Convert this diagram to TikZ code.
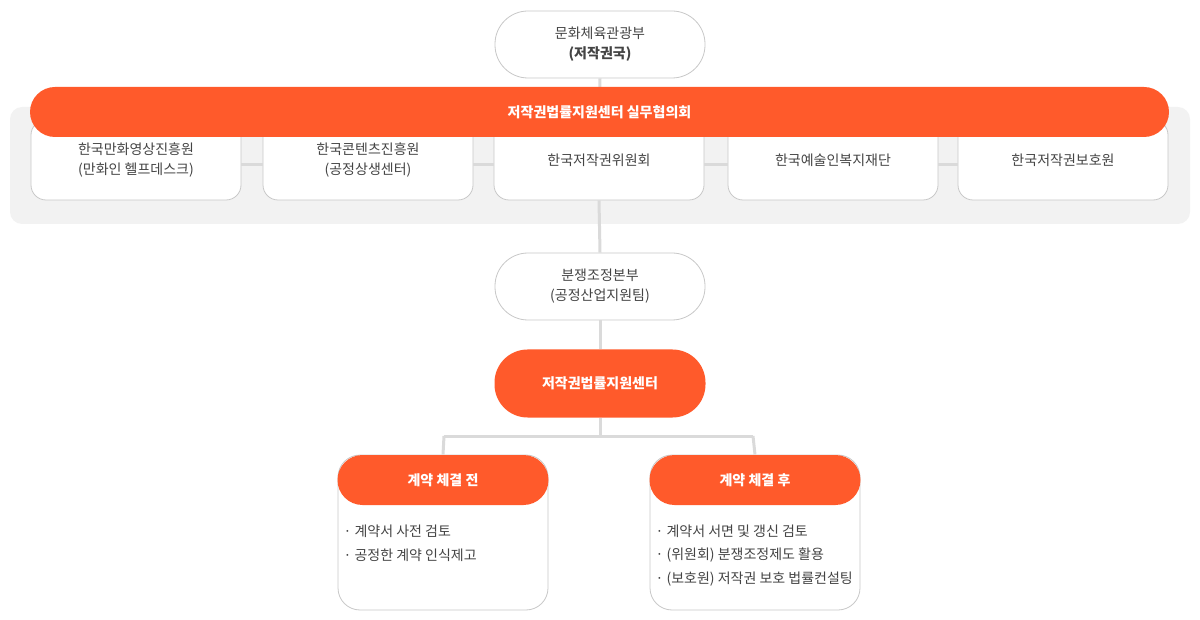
\documentclass[tikz,border=0pt]{standalone}
\usepackage{fontspec}
\setmainfont{Noto Sans CJK KR}
\definecolor{org}{HTML}{FF5A2B}
\definecolor{ln}{HTML}{DADADA}
\definecolor{bd}{HTML}{C8C8C8}
\definecolor{tx}{HTML}{444444}
\definecolor{panel}{HTML}{F2F2F2}
\begin{document}
\begin{tikzpicture}[x=1pt,y=-1pt,
  pill/.style={draw=bd,line width=0.8pt,fill=white,rounded corners=33pt,minimum width=210pt,minimum height=67pt,align=center,font=\fontsize{14}{20}\selectfont,text=tx},
  opill/.style={fill=org,rounded corners=33pt,minimum width=211pt,minimum height=68pt,align=center,font=\fontsize{14}{20}\selectfont\bfseries,text=white},
  sbox/.style={draw=bd,line width=0.8pt,fill=white,rounded corners=15pt,minimum width=210pt,minimum height=80pt,align=center,font=\fontsize{14}{20}\selectfont,text=tx},
  conn/.style={draw=ln,line width=3pt},
  bigbox/.style={draw=bd,line width=0.8pt,fill=white,rounded corners=22pt,minimum width=210pt,minimum height=155pt},
  ohead/.style={fill=org,rounded corners=25pt,minimum width=211pt,minimum height=50pt,font=\fontsize{14}{20}\selectfont\bfseries,text=white},
  item/.style={anchor=west,font=\fontsize{14}{20}\selectfont,text=tx}]
\useasboundingbox (0,0) rectangle (1200,620);
\node[fill=panel,rounded corners=12pt,minimum width=1180pt,minimum height=117pt] (panel) at (600,165.5) {};
% connectors behind
\coordinate (topc) at (600,78);
\coordinate (split) at (600,436);
\coordinate (sl) at (444,436);
\coordinate (sr) at (753,436);
\node[sbox] (b1) at (136,160) {한국만화영상진흥원\\(만화인 헬프데스크)};
\node[sbox] (b2) at (368,160) {한국콘텐츠진흥원\\(공정상생센터)};
\node[sbox] (b3) at (599,160) {한국저작권위원회};
\node[sbox] (b4) at (833,160) {한국예술인복지재단};
\node[sbox] (b5) at (1063,160) {한국저작권보호원};
\draw[conn] (b1.east|-0,165) -- (b2.west|-0,165);
\draw[conn] (b2.east|-0,165) -- (b3.west|-0,165);
\draw[conn] (b3.east|-0,165) -- (b4.west|-0,165);
\draw[conn] (b4.east|-0,165) -- (b5.west|-0,165);
\node[pill] (top) at (600,44.5) {문화체육관광부\\\textbf{(저작권국)}};
\node[pill] (mid) at (600,286.5) {분쟁조정본부\\(공정산업지원팀)};
\node[opill] (ctr) at (600,383.5) {저작권법률지원센터};
\draw[conn] (top.south) -- (b3.north);
\draw[conn] (b3.south) -- (mid.north);
\draw[conn] (mid.south) -- (ctr.north);
\draw[conn] (ctr.south) -- (split) (sl) -- (sr);
\node[fill=org,rounded corners=25pt,minimum width=1139pt,minimum height=50pt,font=\fontsize{14}{20}\selectfont\bfseries,text=white] (bar) at (599.5,112) {저작권법률지원센터 실무협의회};
\node[bigbox] (lb) at (443,532.5) {};
\node[bigbox] (rb) at (755,532.5) {};
\draw[conn] (sl) -- (lb.north);
\draw[conn] (sr) -- (rb.north);
\node[ohead] (lh) at (443,480) {계약 체결 전};
\node[ohead] (rh) at (755,480) {계약 체결 후};
\node[item] (l1) at (340,531) {· 계약서 사전 검토};
\node[item] (l2) at (340,555) {· 공정한 계약 인식제고};
\node[item] (r1) at (652,531) {· 계약서 서면 및 갱신 검토};
\node[item] (r2) at (652,555) {· (위원회) 분쟁조정제도 활용};
\node[item] (r3) at (652,579) {· (보호원) 저작권 보호 법률컨설팅};
\end{tikzpicture}
\end{document}
